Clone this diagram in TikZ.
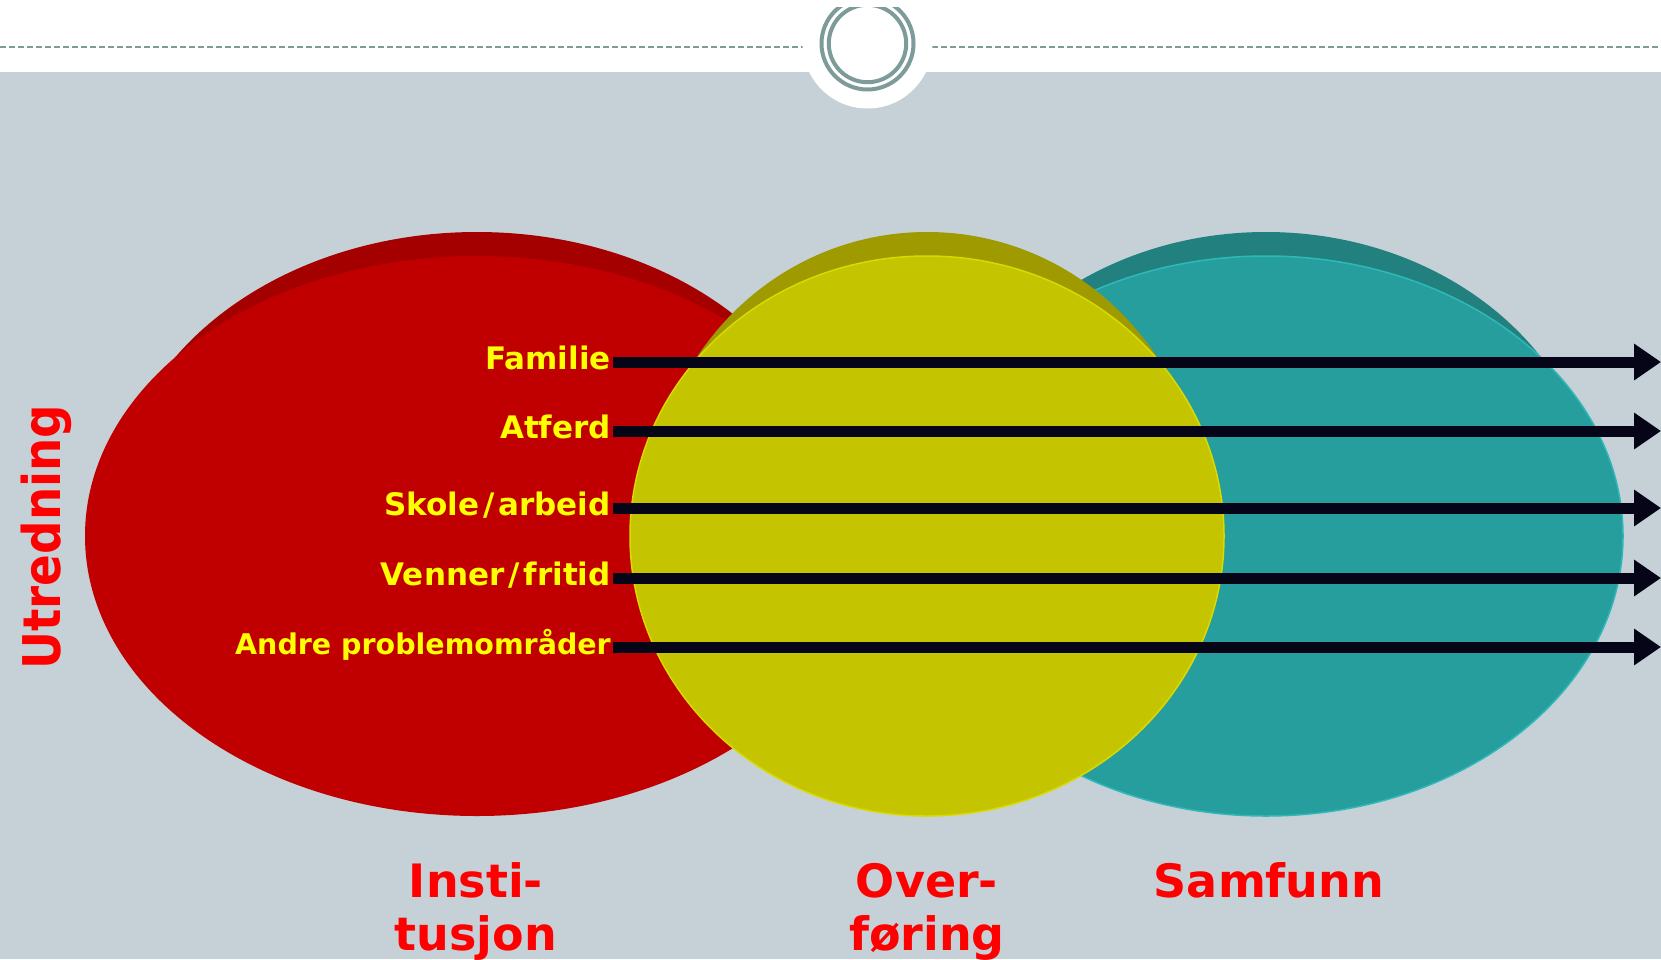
\documentclass[tikz,border=0pt]{standalone}
\usepackage{fontspec}
\setmainfont{DejaVu Sans}
\usetikzlibrary{arrows.meta}
\definecolor{bggrey}{HTML}{C5D1D7}
\definecolor{ringcol}{HTML}{7C9B99}
\definecolor{redfront}{HTML}{C00000}
\definecolor{redback}{HTML}{A40000}
\definecolor{yelfront}{HTML}{C4C400}
\definecolor{yelback}{HTML}{9E9A00}
\definecolor{yeledge}{HTML}{DADA00}
\definecolor{tealfront}{HTML}{279E9E}
\definecolor{tealback}{HTML}{22817F}
\definecolor{tealedge}{HTML}{2FB8B8}
\definecolor{labyellow}{HTML}{FFFF00}
\definecolor{titlered}{HTML}{FF0000}
\definecolor{arrowblack}{HTML}{050517}
\newcommand{\wslash}{\kern4pt/\kern4pt}
\begin{document}
\begin{tikzpicture}[x=1pt,y=-1pt,
  lab/.style={anchor=base east, inner sep=0pt, text=labyellow,
    font=\fontsize{31}{36}\selectfont\bfseries},
  smalllab/.style={lab, font=\fontsize{28.5}{34}\selectfont\bfseries},
  bottomlab/.style={anchor=base, inner sep=0pt, text=titlered, align=center,
    font=\fontsize{46}{53}\selectfont\bfseries},
  flow/.style={draw=arrowblack, line width=11pt,
    -{Triangle[length=27pt,width=35pt]}},
  ring/.style={draw=ringcol, line width=4pt},
  topdash/.style={draw=ringcol, line width=1.5pt, dash pattern=on 6pt off 3pt}]
\useasboundingbox (0,0) rectangle (1661,959);
% background
\fill[white] (0,0) rectangle (1661,959);
\fill[bggrey] (0,72) rectangle (1661,959);
% header
\draw[topdash] (0,47) -- (803,47);
\draw[topdash] (932,47) -- (1661,47);
\fill[white] (867.5,43.5) circle [radius=65pt];
\draw[ring] (867.5,43.5) circle [radius=46pt];
\draw[ring] (867.5,43.5) circle [radius=38.7pt];
\fill[white] (780,0) rectangle (950,7);
% red disc
\fill[redback] (477,512) ellipse [x radius=362pt, y radius=280pt];
\fill[redfront] (477,536) ellipse [x radius=392pt, y radius=280pt];
% teal disc
\fill[tealback] (1266,512) ellipse [x radius=330pt, y radius=280pt];
\fill[tealfront] (1266,536) ellipse [x radius=357pt, y radius=280pt];
\draw[tealedge, line width=1.5pt] (1266,536) ellipse [x radius=357pt, y radius=280pt];
% yellow disc
\fill[yelback] (927,512) ellipse [x radius=276pt, y radius=280pt];
\fill[yelfront] (927,536) ellipse [x radius=297pt, y radius=280pt];
\draw[yeledge, line width=1.5pt] (927,536) ellipse [x radius=297pt, y radius=280pt];
% labels
\node[lab] (l1) at (611,369) {Familie};
\node[lab] (l2) at (611,438) {Atferd};
\node[lab] (l3) at (611,515) {Skole\wslash arbeid};
\node[lab] (l4) at (611,585) {Venner\wslash fritid};
\node[smalllab] (l5) at (611,654) {Andre problemområder};
\coordinate (e1) at (1661,362);
\coordinate (e2) at (1661,431);
\coordinate (e3) at (1661,508);
\coordinate (e4) at (1661,578);
\coordinate (e5) at (1661,647);
\foreach \i in {1,...,5}{
  \draw[flow] ([xshift=2pt]l\i.east |- e\i) -- (e\i);
}
% side title
\node[anchor=base, rotate=90, inner sep=0pt, text=titlered,
  font=\fontsize{52}{60}\selectfont\bfseries] (utr) at (60,537)
  {\scalebox{0.9}[1]{Utredning}};
% bottom titles
\node[bottomlab] (inst) at (476,950) {Insti-\\tusjon};
\node[bottomlab] (over) at (927,950) {Over-\\føring};
\node[bottomlab] (samf) at (1269,897) {Samfunn};
\end{tikzpicture}
\end{document}
